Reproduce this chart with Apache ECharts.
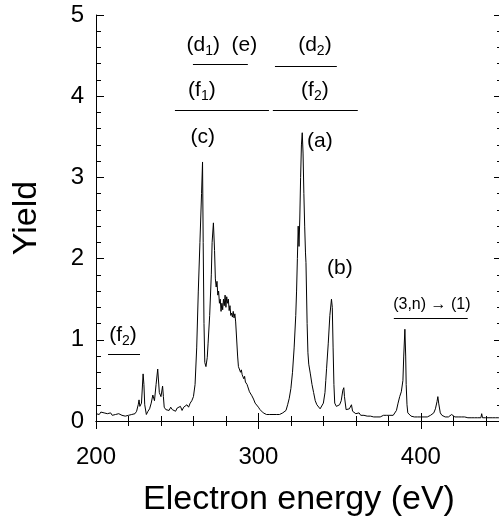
<!DOCTYPE html>
<html><head><meta charset="utf-8">
<script src="https://cdn.jsdelivr.net/npm/echarts@6/dist/echarts.min.js"></script>
<style>html,body{margin:0;padding:0;background:#fff}#c{width:499px;height:521px}</style>
</head><body><div id="c"></div>
<script>
// Electron energy (eV) and yield samples
const energy = [200,201,202,203,204,205,206,207,208,209,210,211,212,213,214,215,216,217,218,219,220,221,222,223,224,225,226,226.5,227,228,229,229.5,230,231,232,233,234,235,236,237,238,239,240,241,241.5,242,243,244,245,246,247,248,249,250,251,252,253,254,255,256,257,258,259,260,261,262,263,264,265,265.6,266,266.5,267,267.7,268.5,269,270,271,271.5,272.3,273,273.5,274,274.5,275,275.5,276,276.5,277,277.5,278,278.5,279,279.5,280,280.5,281,281.5,282,282.5,283,283.5,284,284.5,285,285.5,286,286.7,287.2,287.7,288.5,289,289.5,290,290.5,291,291.5,292,293,293.5,294,294.5,295,296,297,298,299,300,301,302,303,304,305,306,307,308,309,310,311,312,313,314,315,316,317,318,319,320,321,322,323,323.5,324,324.5,325,325.5,326,326.5,327,327.5,328,328.5,329,329.3,330,330.5,331,332,333,334,335,336,337,338,339,340,341,341.5,342,343,344,345,345.5,346,346.5,347,348,349,350,351,352,352.6,353,354,355,356,357.3,358,359,360,361,362,363,364,365,366,367,368,369,370,371,372,373,374,375,376,377,378,379,380,381,382,383,384,385,386,387,388,389,389.5,390.2,390.7,391,391.5,392,393,394,395,396,397,398,399,400,401,402,403,404,405,406,407,408,409,410,410.5,411,412,413,414,415,416,417,418,419,419.5,420,421,422,423,424,425,426,427,428,429,430,431,432,433,434,435,436,437,437.5,438,439,440,441,442,443,444,445,446,447,448,449,450];
const yieldVals = [0.09,0.1,0.08,0.11,0.09,0.1,0.08,0.09,0.08,0.1,0.07,0.09,0.08,0.07,0.09,0.08,0.07,0.09,0.06,0.08,0.07,0.09,0.08,0.1,0.09,0.12,0.2,0.26,0.18,0.22,0.58,0.45,0.2,0.08,0.12,0.15,0.22,0.32,0.25,0.45,0.64,0.35,0.3,0.43,0.3,0.17,0.14,0.15,0.13,0.17,0.14,0.15,0.12,0.16,0.14,0.18,0.13,0.17,0.15,0.2,0.17,0.22,0.25,0.3,0.45,0.9,1.6,2.2,2.8,3.19,2.2,1.2,0.72,0.67,0.78,0.95,1.3,1.8,2.2,2.44,2.1,1.75,1.65,1.72,1.55,1.6,1.45,1.5,1.35,1.45,1.37,1.5,1.42,1.55,1.4,1.53,1.45,1.5,1.36,1.42,1.3,1.33,1.28,1.35,1.27,1.32,1.22,1.24,0.8,0.67,0.68,0.6,0.63,0.57,0.59,0.52,0.55,0.48,0.45,0.42,0.44,0.36,0.38,0.31,0.27,0.22,0.2,0.17,0.14,0.12,0.1,0.09,0.08,0.09,0.08,0.09,0.08,0.09,0.08,0.09,0.08,0.09,0.1,0.12,0.13,0.2,0.28,0.4,0.6,0.9,1.3,1.6,2.0,2.4,2.15,2.5,3.0,3.4,3.55,3.3,2.8,2.4,2.07,1.95,1.2,0.84,0.7,0.58,0.45,0.35,0.25,0.2,0.22,0.15,0.17,0.22,0.35,0.5,0.65,0.95,1.3,1.5,1.4,0.9,0.45,0.22,0.18,0.17,0.2,0.25,0.38,0.41,0.3,0.14,0.12,0.15,0.2,0.12,0.1,0.09,0.08,0.1,0.07,0.06,0.07,0.05,0.06,0.05,0.06,0.07,0.05,0.06,0.05,0.06,0.05,0.06,0.07,0.06,0.07,0.06,0.07,0.08,0.07,0.09,0.13,0.22,0.3,0.36,0.5,0.8,1.13,0.8,0.45,0.2,0.1,0.08,0.06,0.07,0.05,0.06,0.05,0.06,0.05,0.06,0.05,0.06,0.05,0.06,0.07,0.08,0.1,0.15,0.24,0.3,0.22,0.1,0.07,0.06,0.05,0.06,0.05,0.07,0.08,0.1,0.08,0.05,0.04,0.05,0.04,0.05,0.04,0.05,0.04,0.04,0.05,0.04,0.05,0.04,0.05,0.04,0.05,0.04,0.09,0.04,0.05,0.04,0.05,0.04,0.05,0.04,0.05,0.04,0.05,0.04,0.05,0.04];
const xTicks = [200, 300, 400];
const yTicks = [0, 1, 2, 3, 4, 5];
// annotation texts (label, energy, yield) and underline bars (from, to, yield)
const labelTexts = ['(d{s|1})  (e)', '(d{s|2})', '(f{s|1})', '(f{s|2})', '(c)', '(a)', '(b)', '(f{s|2})', '(3,n) \u2192 (1)'];
const labelE = [277.5, 334.8, 265.2, 334.8, 265.8, 337.8, 350.2, 216.6, 406.8];
const labelY = [4.63, 4.63, 4.08, 4.08, 3.49, 3.45, 1.88, 1.06, 1.43];
const barFrom = [259.7, 310.2, 248.6, 308.9, 207.4, 383.4];
const barTo = [293.5, 348.3, 306.5, 361.2, 227.1, 428.9];
const barY = [4.40, 4.37, 3.83, 3.83, 0.83, 1.27];

const FONT = 'Liberation Sans, Arial, sans-serif';
const chart = echarts.init(document.getElementById('c'));
const data = energy.map((e, i) => [e, yieldVals[i]]);
const axisCommon = {
  type: 'value',
  axisLine: { show: true, lineStyle: { color: '#000', width: 1 } },
  axisTick: { show: true, inside: true, length: 8, lineStyle: { color: '#000' } },
  minorTick: { show: true, splitNumber: 5, length: 5, lineStyle: { color: '#000' } },
  splitLine: { show: false },
  minorSplitLine: { show: false }
};
chart.setOption({
  animation: false,
  backgroundColor: '#fff',
  grid: { left: 96, right: -3, top: 15, bottom: 100, containLabel: false, outerBoundsMode: 'none' },
  xAxis: [
    Object.assign({}, axisCommon, {
      min: 200, max: 450, interval: 100, position: 'bottom',
      axisLabel: { show: true, fontSize: 24, fontFamily: FONT, color: '#000', margin: 24,
        formatter: v => xTicks.includes(v) ? String(v) : '' },
      name: 'Electron energy (eV)', nameLocation: 'middle', nameGap: 62, nameMoveOverlap: false,
      nameTextStyle: { fontSize: 34, fontFamily: FONT, color: '#000' }
    }),
    Object.assign({}, axisCommon, { min: 200, max: 450, interval: 100, position: 'top', axisLabel: { show: false } })
  ],
  yAxis: [
    Object.assign({}, axisCommon, {
      min: 0, max: 5, interval: 1, position: 'left',
      axisLabel: { show: true, fontSize: 24, fontFamily: FONT, color: '#000', margin: 12,
        formatter: v => yTicks.includes(v) ? String(v) : '' },
      name: 'Yield', nameLocation: 'middle', nameGap: 52, nameMoveOverlap: false,
      nameTextStyle: { fontSize: 34, fontFamily: FONT, color: '#000' }
    }),
    Object.assign({}, axisCommon, { min: 0, max: 5, interval: 1, position: 'right', axisLabel: { show: false } })
  ],
  series: [{
    type: 'line', data: data, showSymbol: false, symbol: 'none',
    lineStyle: { color: '#000', width: 1 }, xAxisIndex: 0, yAxisIndex: 0
  }]
});

const graphics = [];
labelTexts.forEach((t, i) => {
  const p = chart.convertToPixel({ xAxisIndex: 0, yAxisIndex: 0 }, [labelE[i], labelY[i]]);
  const small = i === 8;
  graphics.push({
    type: 'text', x: p[0], y: p[1], z: 10,
    style: {
      text: t, x: 0, y: 0, align: 'center', verticalAlign: 'middle',
      fontSize: small ? 16 : 21, fontFamily: FONT, fill: '#000',
      rich: { s: { fontSize: 14, fontFamily: FONT, fill: '#000', padding: [12, 0, 0, 0] } }
    }
  });
});
barFrom.forEach((f, i) => {
  const a = chart.convertToPixel({ xAxisIndex: 0, yAxisIndex: 0 }, [f, barY[i]]);
  const b = chart.convertToPixel({ xAxisIndex: 0, yAxisIndex: 0 }, [barTo[i], barY[i]]);
  graphics.push({
    type: 'line', z: 10,
    shape: { x1: a[0], y1: Math.round(a[1]) + 0.5, x2: b[0], y2: Math.round(b[1]) + 0.5 },
    style: { stroke: '#000', lineWidth: 1 }
  });
});
chart.setOption({ graphic: graphics });
</script></body></html>
